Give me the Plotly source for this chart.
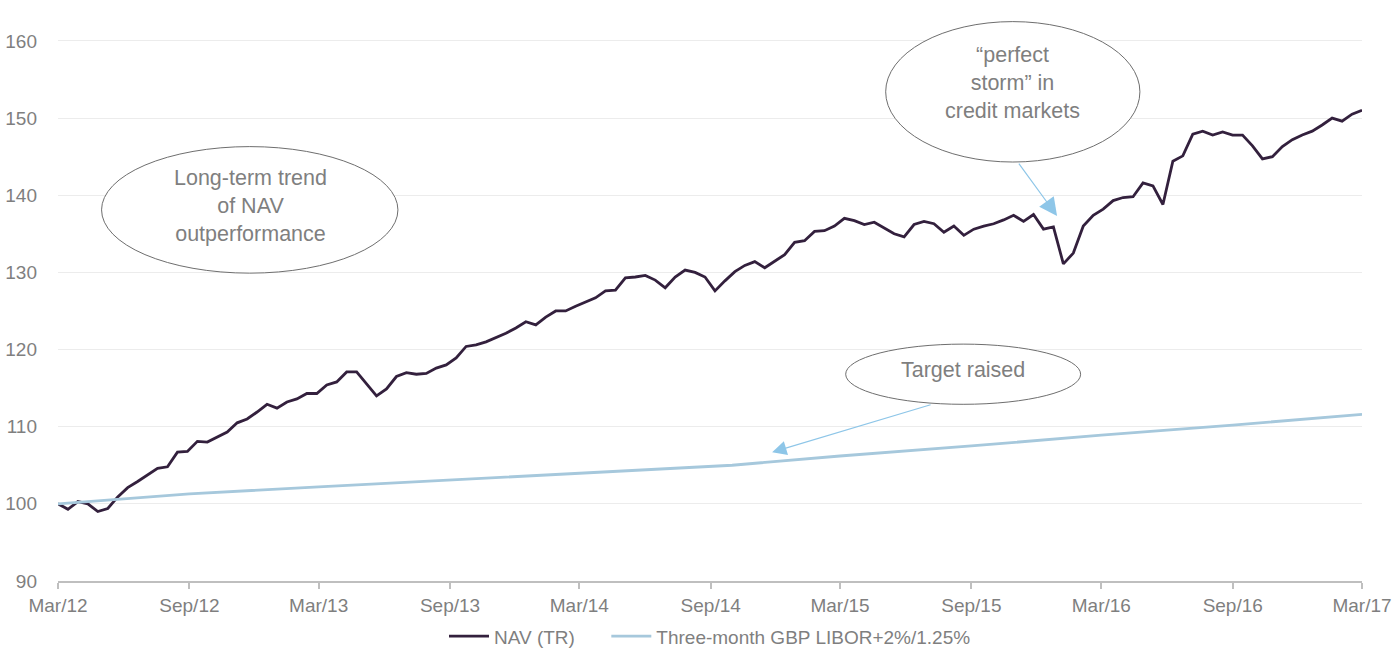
import pandas as pd
import plotly.graph_objects as go

# NAV total return, rebased to 100, sampled roughly fortnightly Mar 2012 - Mar 2017
nav_values = [
    100.0, 99.3, 100.3, 100.0, 99.0, 99.4, 100.9, 102.1, 102.9, 103.8,
    104.6, 104.8, 106.7, 106.8, 108.1, 108.0, 108.7, 109.3, 110.5, 111.0,
    111.9, 112.9, 112.4, 113.2, 113.6, 114.3, 114.3, 115.4, 115.8, 117.1,
    117.1, 115.6, 114.0, 114.9, 116.5, 117.0, 116.8, 116.9, 117.6, 118.0,
    118.9, 120.4, 120.6, 121.0, 121.5, 122.1, 122.8, 123.6, 123.2, 124.2,
    125.0, 125.0, 125.6, 126.2, 126.7, 127.6, 127.7, 129.3, 129.4, 129.6,
    129.0, 128.0, 129.4, 130.3, 130.0, 129.4, 127.6, 128.9, 130.1, 130.9,
    131.4, 130.6, 131.5, 132.3, 133.9, 134.1, 135.3, 135.4, 136.0, 137.0,
    136.7, 136.2, 136.5, 135.8, 135.0, 134.6, 136.2, 136.6, 136.3, 135.2,
    136.0, 134.8, 135.6, 136.0, 136.3, 136.8, 137.4, 136.6, 137.5, 135.6,
    135.9, 131.1, 132.5, 136.0, 137.4, 138.2, 139.3, 139.7, 139.8, 141.6,
    141.2, 138.8, 144.4, 145.1, 147.9, 148.3, 147.8, 148.2, 147.8, 147.8,
    146.4, 144.7, 145.0, 146.3, 147.2, 147.8, 148.3, 149.1, 150.0, 149.6,
    150.5, 151.0,
]
nav_dates = pd.date_range("2012-03-01", "2017-03-01", periods=len(nav_values))

# Benchmark: three-month GBP LIBOR + 2% / 1.25%
libor_dates = [
    "2012-03-01", "2012-09-01", "2013-03-01", "2013-09-01", "2014-03-01",
    "2014-09-01", "2014-10-01", "2015-03-01", "2015-09-01", "2016-03-01",
    "2016-09-01", "2017-03-01",
]
libor_values = [
    100.0, 101.3, 102.2, 103.1, 104.0,
    104.9, 105.0, 106.2, 107.5, 108.9,
    110.2, 111.6,
]

tick_dates = [
    "2012-03-01", "2012-09-01", "2013-03-01", "2013-09-01", "2014-03-01",
    "2014-09-01", "2015-03-01", "2015-09-01", "2016-03-01", "2016-09-01",
    "2017-03-01",
]
tick_labels = [
    "Mar/12", "Sep/12", "Mar/13", "Sep/13", "Mar/14", "Sep/14",
    "Mar/15", "Sep/15", "Mar/16", "Sep/16", "Mar/17",
]
y_ticks = [90, 100, 110, 120, 130, 140, 150, 160]

FONT = "Arial, Liberation Sans, sans-serif"
GREY = "#7f7f7f"
NAV_COLOR = "#33203d"
LIBOR_COLOR = "#a6c8dc"
ARROW_COLOR = "#8ec6e8"
LEGEND_PAD = "\u00a0" * 5 + "\u200b"  # extra room between legend entries

fig = go.Figure()
fig.add_trace(go.Scatter(
    x=nav_dates, y=nav_values, mode="lines", name="NAV (TR)" + LEGEND_PAD,
    line=dict(color=NAV_COLOR, width=2.8),
))
fig.add_trace(go.Scatter(
    x=libor_dates, y=libor_values, mode="lines",
    name="Three-month GBP LIBOR+2%/1.25%",
    line=dict(color=LIBOR_COLOR, width=2.8),
))

# Call-out ellipses
ellipses = [
    ("2012-05-01", "2013-06-20", 129.9, 146.3),
    ("2015-05-04", "2016-04-24", 144.3, 162.5),
    ("2015-03-09", "2016-02-01", 112.9, 120.7),
]
for x0, x1, y0, y1 in ellipses:
    fig.add_shape(
        type="circle", xref="x", yref="y", x0=x0, x1=x1, y0=y0, y1=y1,
        line=dict(color="#6e6e6e", width=1), fillcolor="white", layer="above",
    )

labels = [
    ("2012-11-25", 138.6, "Long-term trend<br>of NAV<br>outperformance"),
    ("2015-10-29", 154.6, "\u201cperfect<br>storm\u201d in<br>credit markets"),
    ("2015-08-20", 117.4, "Target raised"),
]
for x, y, text in labels:
    fig.add_annotation(
        x=x, y=y, xref="x", yref="y", text=text, showarrow=False,
        font=dict(family=FONT, size=21.5, color=GREY), align="center",
    )

# Pointer arrows
arrows = [
    ("2015-12-30", 137.3, "2015-11-05", 144.3, 3.0),
    ("2014-11-26", 106.7, "2015-07-08", 112.9, 2.4),
]
for x, y, ax, ay, size in arrows:
    fig.add_annotation(
        x=x, y=y, ax=ax, ay=ay, xref="x", yref="y", axref="x", ayref="y",
        text="", showarrow=True, arrowhead=2, arrowsize=size,
        arrowwidth=1.2, arrowcolor=ARROW_COLOR,
    )

fig.update_layout(
    width=1395, height=657,
    margin=dict(l=58, r=33, t=0, b=76),
    paper_bgcolor="white", plot_bgcolor="white",
    font=dict(family=FONT, size=19, color=GREY),
    showlegend=True,
    legend=dict(
        orientation="h", x=0.5, xanchor="center", y=-0.128, yanchor="bottom",
        font=dict(family=FONT, size=19, color=GREY), itemwidth=40,
        traceorder="normal", borderwidth=0,
    ),
    xaxis=dict(
        type="date", range=["2012-03-01", "2017-03-01"],
        tickvals=tick_dates, ticktext=tick_labels,
        showgrid=False, showline=True, linecolor="#bfbfbf", linewidth=1.5,
        ticks="outside", ticklen=6, tickcolor="#bfbfbf", tickwidth=1.5,
        tickfont=dict(family=FONT, size=19, color=GREY), zeroline=False,
    ),
    yaxis=dict(
        range=[90, 165.3], tickvals=y_ticks,
        showgrid=True, gridcolor="#ececec", gridwidth=1,
        showline=False, zeroline=False, ticks="",
        ticklabelstandoff=20,
        tickfont=dict(family=FONT, size=19, color=GREY),
    ),
)

fig.write_html("out.html")
